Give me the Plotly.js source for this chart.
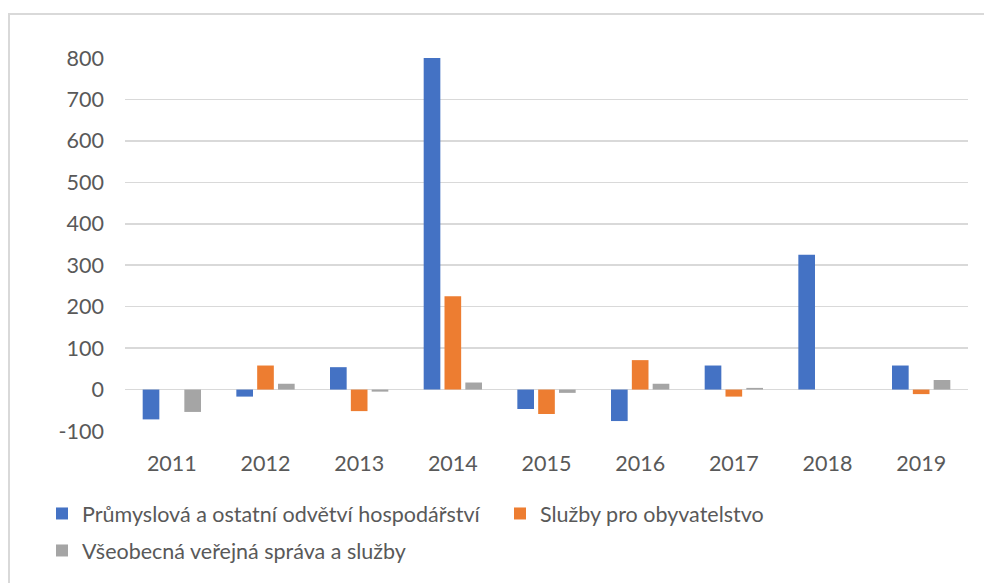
<!DOCTYPE html>
<html>
<head>
<meta charset="utf-8">
<script src="https://cdn.plot.ly/plotly-3.0.1.min.js"></script>
<style>
html,body{margin:0;padding:0;background:#fff;}
#frame{position:absolute;left:8px;top:13px;width:1200px;height:800px;border-left:2px solid #d9d9d9;border-top:2px solid #d9d9d9;box-sizing:border-box;pointer-events:none;}
#chart{position:absolute;left:0;top:0;width:984px;height:583px;}
</style>
</head>
<body>
<div id="chart"></div>
<div id="frame"></div>
<script>
const years = ['2011','2012','2013','2014','2015','2016','2017','2018','2019'];
const seriesNames = ['Průmyslová a ostatní odvětví hospodářství','Služby pro obyvatelstvo','Všeobecná veřejná správa a služby'];
const prumysl = [-72, -17, 54, 800, -47, -76, 58, 325, 58];
const sluzby = [null, 58, -52, 225, -59, 71, -17, null, -11];
const sprava = [-54, 14, -5, 17, -8, 14, 4, null, 23];
const yTicks = [-100, 0, 100, 200, 300, 400, 500, 600, 700, 800];
const colors = ['#4472C4', '#ED7D31', '#A5A5A5'];

const fontFam = 'Lato, "Open Sans", sans-serif';
const legendIds = ['legend', 'legend3', 'legend2'];
const traces = [prumysl, sluzby, sprava].map((vals, i) => ({
  type: 'bar', x: years, y: vals, name: seriesNames[i],
  marker: {color: colors[i], line: {width: 0}},
  legend: legendIds[i],
  hoverinfo: 'x+y'
}));

const fs = 21.5;
const legFont = {size: fs, color: '#595959'};
const layout = {
  width: 984, height: 583,
  margin: {l: 125, r: 16, t: 58, b: 152},
  paper_bgcolor: '#fff', plot_bgcolor: '#fff',
  barmode: 'group', bargap: 0.333, bargroupgap: 0.2,
  font: {family: fontFam, size: fs, color: '#595959'},
  xaxis: {showgrid: false, zeroline: false, showline: false, ticks: '', ticklabelstandoff: 17, tickfont: {size: fs, color: '#595959'}},
  yaxis: {range: [-100, 800], tickvals: yTicks, ticktext: yTicks.map(String), showgrid: true, gridcolor: '#d9d9d9', gridwidth: 1.5, zeroline: true, zerolinecolor: '#d9d9d9', zerolinewidth: 1.5, showline: false, ticks: '', ticklabelstandoff: 20, tickfont: {size: fs, color: '#595959'}},
  showlegend: true,
  legend: {orientation: 'h', xref: 'container', yref: 'container', x: 42/984, y: 1 - 493/583, xanchor: 'left', yanchor: 'top', itemwidth: 30, font: legFont, itemclick: false},
  legend3: {orientation: 'h', xref: 'container', yref: 'container', x: 500/984, y: 1 - 493/583, xanchor: 'left', yanchor: 'top', itemwidth: 30, font: legFont, itemclick: false},
  legend2: {orientation: 'h', xref: 'container', yref: 'container', x: 42/984, y: 1 - 530/583, xanchor: 'left', yanchor: 'top', itemwidth: 30, font: legFont, itemclick: false}
};

Plotly.newPlot('chart', traces, layout, {displayModeBar: false, staticPlot: true});
</script>
</body>
</html>
